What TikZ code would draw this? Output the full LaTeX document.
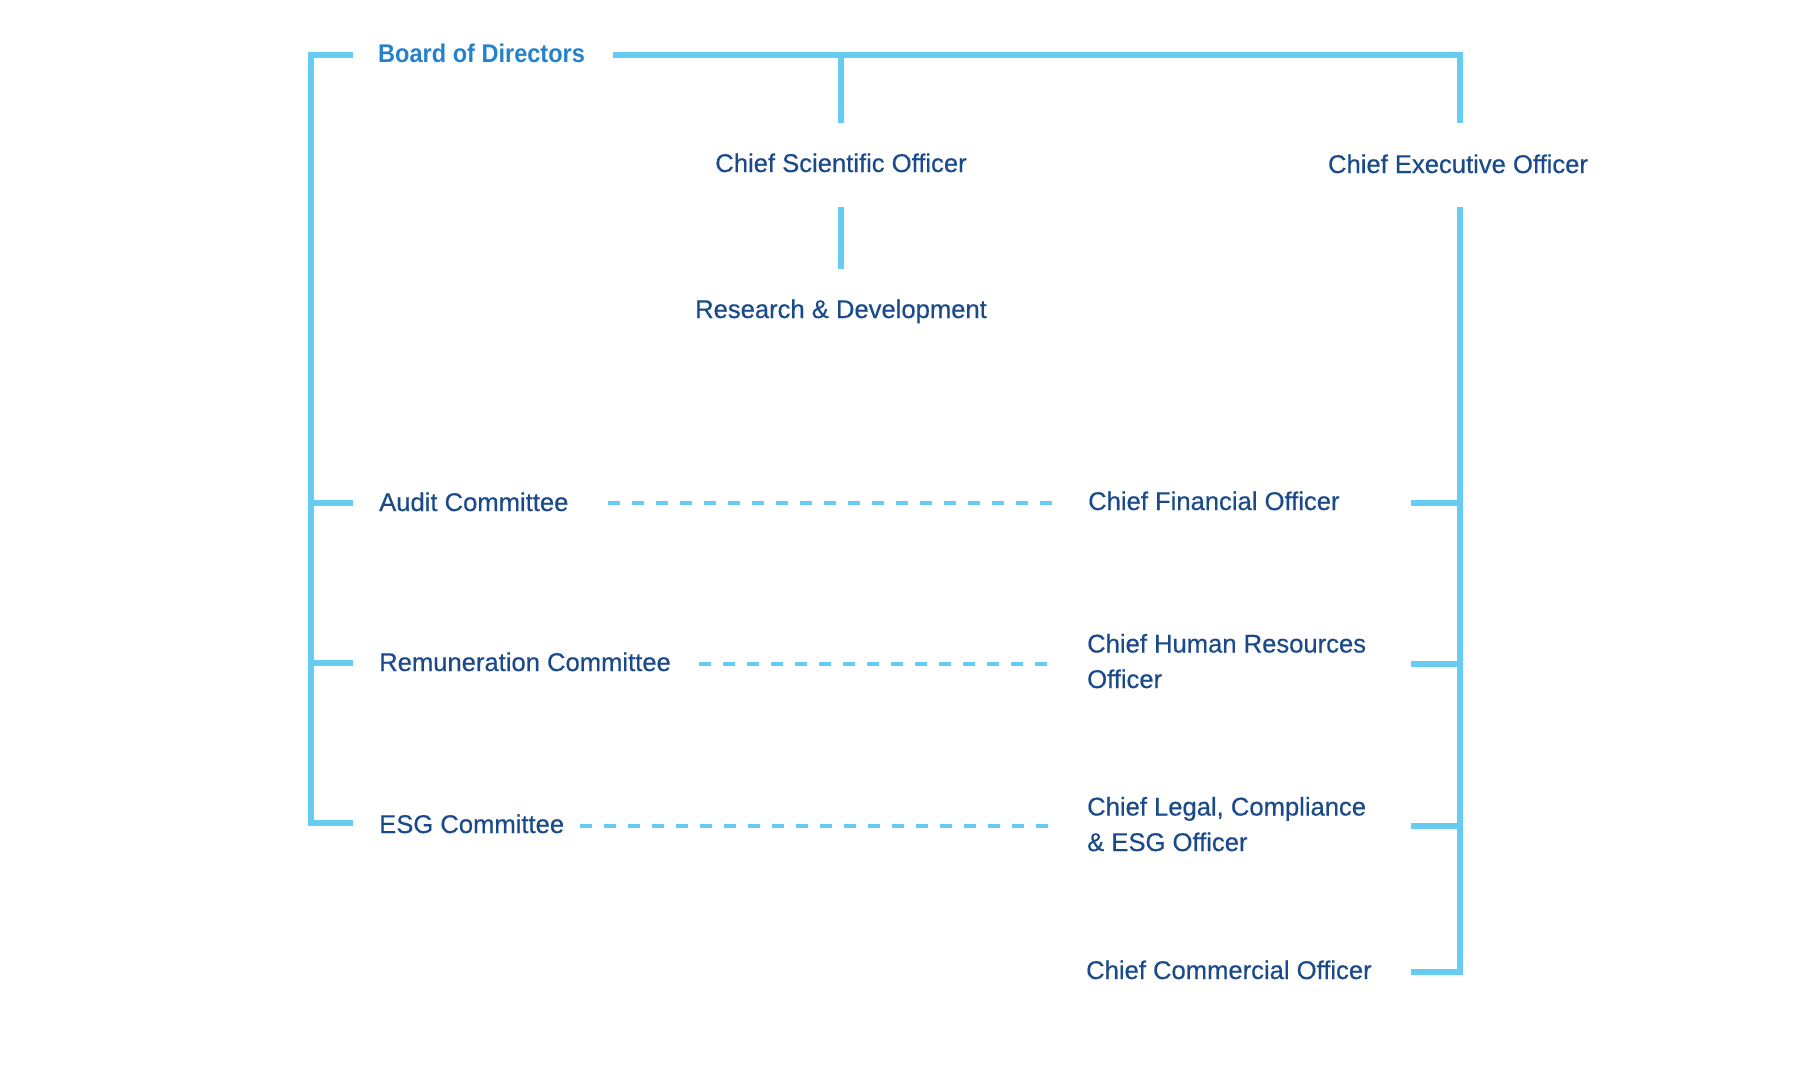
\documentclass[tikz,border=0pt]{standalone}
\usepackage{fontspec}
\setmainfont{Liberation Sans}
\newfontfamily\medfont{Liberation Sans}[FakeBold=0.45]
\newfontfamily\boardfont{Liberation Sans}[FakeStretch=0.92]
\definecolor{linecol}{HTML}{66CCF2}
\definecolor{txtcol}{HTML}{1A4A8A}
\definecolor{boardcol}{HTML}{2581CA}
\begin{document}
\begin{tikzpicture}[x=1bp,y=-1bp,
  lbl/.style={anchor=base west, inner sep=0pt, text=txtcol, align=left,
    font=\medfont\fontsize{25.6bp}{35.5bp}\selectfont},
  clbl/.style={lbl, anchor=base, align=center},
  solidline/.style={draw=linecol, line width=6bp, line cap=butt, line join=miter},
  dashline/.style={draw=linecol, line width=4.5bp, line cap=butt, dash pattern=on 12bp off 12bp}]
\useasboundingbox (0,0) rectangle (1800,1086);
% texts
\node[lbl, text=boardcol, font=\boardfont\bfseries\fontsize{25.6bp}{30bp}\selectfont] (board) at (378,62) {Board of Directors};
\node[clbl] (cso) at (841,172) {Chief Scientific Officer};
\node[clbl] (rd) at (841,318) {Research \& Development};
\node[clbl] (ceo) at (1458,173) {Chief Executive Officer};
\node[lbl] (audit) at (379,511) {Audit Committee};
\node[lbl] (rem) at (379,671) {Remuneration Committee};
\node[lbl] (esg) at (379,833) {ESG Committee};
\node[lbl] (cfo) at (1088,510) {Chief Financial Officer};
\node[lbl] (chro) at (1087,688) {Chief Human Resources\\Officer};
\node[lbl] (clo) at (1087,851) {Chief Legal, Compliance\\\& ESG Officer};
\node[lbl] (cco) at (1086,979) {Chief Commercial Officer};
% coordinates
\coordinate (bL) at (353,55);
\coordinate (bLc) at (311,55);
\coordinate (lA) at (311,503);
\coordinate (lAe) at (353,503);
\coordinate (lR) at (311,663);
\coordinate (lRe) at (353,663);
\coordinate (lE) at (311,823);
\coordinate (lEe) at (353,823);
\coordinate (bR) at (613,55);
\coordinate (tC) at (1460,55);
\coordinate (tCe) at (1460,123);
\coordinate (tS) at (841,55);
\coordinate (tSe) at (841,123);
\coordinate (sD) at (841,207);
\coordinate (sDe) at (841,269);
\coordinate (cD) at (1460,207);
\coordinate (cB) at (1460,972);
\coordinate (cBe) at (1411,972);
\coordinate (rA) at (1460,503);
\coordinate (rAe) at (1411,503);
\coordinate (rR) at (1460,664);
\coordinate (rRe) at (1411,664);
\coordinate (rE) at (1460,826);
\coordinate (rEe) at (1411,826);
\coordinate (dA1) at (608,503);
\coordinate (dA2) at (1053,503);
\coordinate (dR1) at (699,664);
\coordinate (dR2) at (1052,664);
\coordinate (dE1) at (580,826);
\coordinate (dE2) at (1052,826);
% solid connectors
\draw[solidline] (bL) -- (bLc) -- (lE) -- (lEe);
\draw[solidline] (lA) -- (lAe);
\draw[solidline] (lR) -- (lRe);
\draw[solidline] (bR) -- (tC) -- (tCe);
\draw[solidline] (tS) -- (tSe);
\draw[solidline] (sD) -- (sDe);
\draw[solidline] (cD) -- (cB) -- (cBe);
\draw[solidline] (rA) -- (rAe);
\draw[solidline] (rR) -- (rRe);
\draw[solidline] (rE) -- (rEe);
% dashed connectors
\draw[dashline] (dA1) -- (dA2);
\draw[dashline] (dR1) -- (dR2);
\draw[dashline] (dE1) -- (dE2);
\end{tikzpicture}
\end{document}
